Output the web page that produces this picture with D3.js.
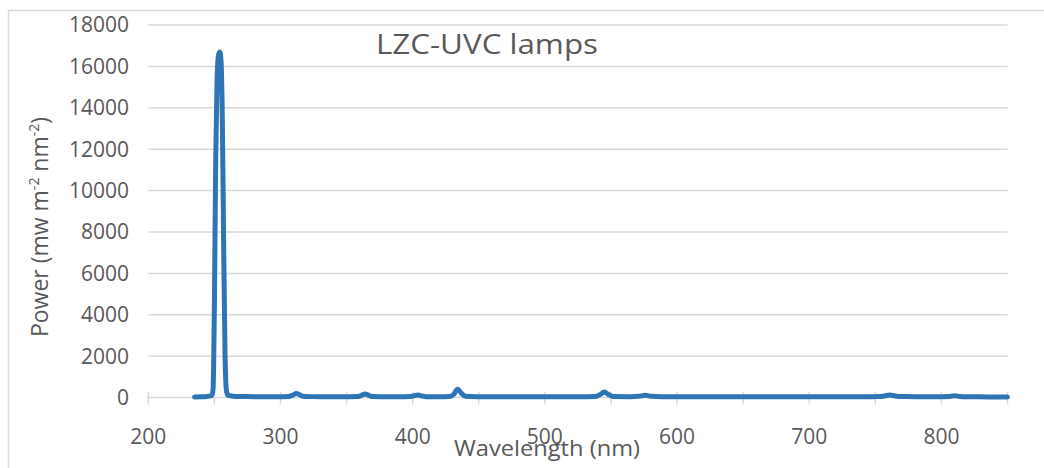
<!DOCTYPE html>
<html>
<head>
<meta charset="utf-8">
<script src="https://cdn.jsdelivr.net/npm/d3@7"></script>
<style>
  body { margin: 0; background: #fff; }
  text { font-family: "Open Sans", "Liberation Sans", sans-serif; fill: #595959; }
</style>
</head>
<body>
<script>
const wavelength = [235, 240, 244, 247, 248, 249, 250, 251, 252, 253, 254, 255, 256, 257, 258, 259, 260, 263,
  270, 280, 290, 300, 306, 309, 312, 315, 318, 330, 340, 350, 358, 361, 364, 367, 370, 380, 390,
  398, 401, 404, 407, 410, 420, 428, 431, 434, 437, 440, 450, 460, 470, 480, 490, 500, 510, 520,
  530, 538, 542, 545, 548, 552, 565, 571, 576, 581, 590, 600, 620, 640, 660, 680, 700, 720, 740,
  752, 757, 761, 765, 770, 780, 790, 800, 806, 810, 814, 820, 835, 850];
const power = [30, 40, 55, 80, 110, 400, 4500, 11500, 15300, 16500, 16700, 16300, 13500, 7500, 2300, 400, 120, 80,
  50, 45, 40, 45, 50, 110, 200, 120, 50, 45, 40, 45, 50, 100, 175, 100, 50, 45, 40,
  50, 90, 125, 80, 45, 40, 50, 150, 400, 200, 60, 45, 40, 40, 45, 40, 40, 45, 40,
  45, 50, 150, 270, 150, 50, 45, 60, 110, 60, 45, 40, 40, 40, 45, 40, 45, 40, 45,
  50, 80, 125, 80, 50, 45, 40, 45, 55, 90, 55, 40, 35, 30];

const yTicks = [0, 2000, 4000, 6000, 8000, 10000, 12000, 14000, 16000, 18000];
const xTicks = [200, 300, 400, 500, 600, 700, 800];
const xMinorTicks = [200, 250, 300, 350, 400, 450, 500, 550, 600, 650, 700, 750, 800, 850];

const W = 1044, H = 468;
const plot = { left: 148.3, right: 1007.5, top: 25, bottom: 397.6 };

const svg = d3.select("body").append("svg")
  .attr("width", W)
  .attr("height", H);

svg.append("rect").attr("width", W).attr("height", H).attr("fill", "#fff");

// chart area border (runs off the right and bottom of the picture)
svg.append("rect")
  .attr("x", 8.5).attr("y", 10.5)
  .attr("width", 1100).attr("height", 500)
  .attr("fill", "none")
  .attr("stroke", "#d9d9d9")
  .attr("stroke-width", 1.5);

const x = d3.scaleLinear().domain([200, 850]).range([plot.left, plot.right]);
const y = d3.scaleLinear().domain([0, 18000]).range([plot.bottom, plot.top]);

// horizontal gridlines
svg.append("g").selectAll("line")
  .data(yTicks.filter(d => d > 0))
  .enter().append("line")
  .attr("x1", plot.left).attr("x2", plot.right)
  .attr("y1", d => y(d)).attr("y2", d => y(d))
  .attr("stroke", "#d9d9d9")
  .attr("stroke-width", 1.5);

// y tick labels
svg.append("g").selectAll("text")
  .data(yTicks)
  .enter().append("text")
  .attr("x", 129)
  .attr("y", d => y(d))
  .attr("dy", "0.35em")
  .attr("text-anchor", "end")
  .attr("font-size", 21)
  .text(d => d);

// x axis line + cross tick marks
svg.append("line")
  .attr("x1", plot.left).attr("x2", plot.right)
  .attr("y1", y(0)).attr("y2", y(0))
  .attr("stroke", "#d9d9d9").attr("stroke-width", 1.5);

svg.append("g").selectAll("line")
  .data(xMinorTicks)
  .enter().append("line")
  .attr("x1", d => x(d)).attr("x2", d => x(d))
  .attr("y1", y(0) - 6).attr("y2", y(0) + 7)
  .attr("stroke", "#d9d9d9").attr("stroke-width", 1.5);

svg.append("g").selectAll("text")
  .data(xTicks)
  .enter().append("text")
  .attr("x", d => x(d))
  .attr("y", 437)
  .attr("dy", "0.35em")
  .attr("text-anchor", "middle")
  .attr("font-size", 21)
  .text(d => d);

// the spectrum
const line = d3.line()
  .x((d, i) => x(wavelength[i]))
  .y(d => y(d))
  .curve(d3.curveMonotoneX);

svg.append("path")
  .datum(power)
  .attr("d", line)
  .attr("fill", "none")
  .attr("stroke", "#2e75b6")
  .attr("stroke-width", 5)
  .attr("stroke-linecap", "round")
  .attr("stroke-linejoin", "round");

// chart title
svg.append("text")
  .attr("x", 487).attr("y", 54)
  .attr("text-anchor", "middle")
  .attr("font-size", 28)
  .attr("textLength", 222)
  .attr("lengthAdjust", "spacingAndGlyphs")
  .text("LZC-UVC lamps");

// axis titles
svg.append("text")
  .attr("x", 547).attr("y", 456)
  .attr("text-anchor", "middle")
  .attr("font-size", 22)
  .attr("textLength", 186)
  .attr("lengthAdjust", "spacingAndGlyphs")
  .text("Wavelength (nm)");

const yt = svg.append("text")
  .attr("transform", "translate(48,227) rotate(-90)")
  .attr("text-anchor", "middle")
  .attr("font-size", 23);
yt.append("tspan").text("Power (mw m");
yt.append("tspan").attr("font-size", 14).attr("dy", -9).text("-2");
yt.append("tspan").attr("dy", 9).text(" nm");
yt.append("tspan").attr("font-size", 14).attr("dy", -9).text("-2");
yt.append("tspan").attr("dy", 9).text(")");
</script>
</body>
</html>
